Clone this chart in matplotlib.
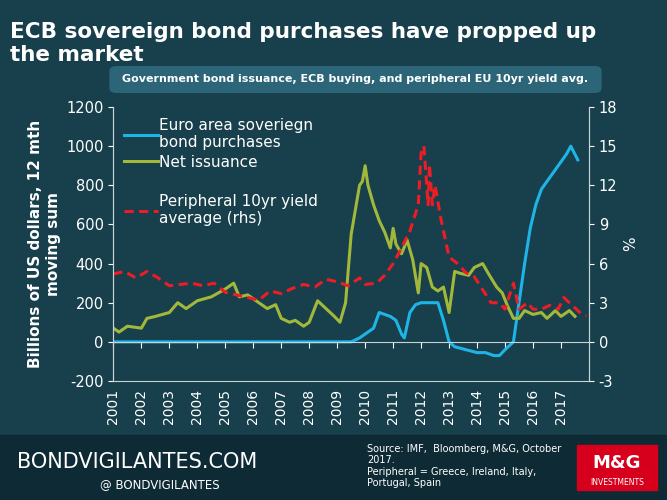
import matplotlib
matplotlib.use("Agg")
import matplotlib.pyplot as plt
from matplotlib.patches import FancyBboxPatch, Rectangle

plt.rcParams["axes.unicode_minus"] = False

blue_t = [2001.0, 2009.5, 2009.8, 2010.0, 2010.3, 2010.5, 2010.7, 2010.9, 2011.1, 2011.3, 2011.4, 2011.6, 2011.8, 2012.0, 2012.4, 2012.6, 2012.8, 2013.0, 2013.2, 2013.6, 2014.0, 2014.3, 2014.6, 2014.8, 2015.0, 2015.3, 2015.5, 2015.7, 2015.9, 2016.1, 2016.3, 2016.6, 2016.9, 2017.2, 2017.35, 2017.6]
blue_v = [0, 0, 20, 40, 70, 150, 140, 130, 110, 40, 20, 150, 190, 200, 200, 200, 110, 0, -25, -40, -55, -55, -70, -70, -40, 0, 200, 400, 580, 700, 780, 840, 900, 960, 1000, 930]

green_t = [2001.0, 2001.2, 2001.5, 2002.0, 2002.2, 2002.5, 2003.0, 2003.3, 2003.6, 2004.0, 2004.5, 2005.0, 2005.3, 2005.5, 2005.8, 2006.2, 2006.5, 2006.8, 2007.0, 2007.3, 2007.5, 2007.8, 2008.0, 2008.3, 2008.6, 2008.9, 2009.1, 2009.3, 2009.5, 2009.8, 2009.9, 2010.0, 2010.1, 2010.3, 2010.5, 2010.7, 2010.9, 2011.0, 2011.1, 2011.3, 2011.5, 2011.7, 2011.9, 2012.0, 2012.2, 2012.4, 2012.6, 2012.8, 2013.0, 2013.2, 2013.4, 2013.7, 2013.9, 2014.2, 2014.4, 2014.7, 2014.9, 2015.1, 2015.3, 2015.5, 2015.7, 2016.0, 2016.3, 2016.5, 2016.8, 2017.0, 2017.3, 2017.5]
green_v = [70, 50, 80, 70, 120, 130, 150, 200, 170, 210, 230, 270, 300, 230, 240, 200, 170, 190, 120, 100, 110, 80, 100, 210, 170, 130, 100, 200, 550, 800, 820, 900, 800, 700, 620, 560, 480, 580, 500, 450, 520, 420, 250, 400, 380, 280, 260, 280, 150, 360, 350, 340, 380, 400, 350, 280, 250, 180, 120, 120, 160, 140, 150, 120, 160, 130, 160, 130]

red_t = [2001.0, 2001.4, 2001.8, 2002.2, 2002.6, 2003.0, 2003.4, 2003.8, 2004.2, 2004.6, 2005.0, 2005.4, 2005.8, 2006.2, 2006.6, 2007.0, 2007.4, 2007.8, 2008.2, 2008.6, 2009.0, 2009.4, 2009.8, 2010.0, 2010.4, 2010.7, 2011.0, 2011.3, 2011.6, 2011.9, 2012.0, 2012.1, 2012.25, 2012.3, 2012.4, 2012.5, 2012.7, 2013.0, 2013.3, 2013.6, 2013.9, 2014.2, 2014.5, 2014.8, 2015.0, 2015.3, 2015.5, 2015.8, 2016.0, 2016.3, 2016.6, 2016.9, 2017.1, 2017.4, 2017.7, 2017.9]
red_v = [5.2, 5.4, 4.9, 5.4, 4.9, 4.3, 4.4, 4.5, 4.3, 4.5, 3.8, 3.6, 3.4, 3.2, 3.9, 3.7, 4.1, 4.4, 4.2, 4.8, 4.6, 4.3, 4.9, 4.4, 4.5, 5.1, 6.0, 7.2, 8.5, 10.5, 14.5, 15.0, 10.5, 13.6, 10.5, 12.0, 9.5, 6.5, 6.0, 5.3, 5.0, 4.0, 3.0, 3.0, 2.5, 4.5, 2.5, 3.0, 2.5, 2.5, 2.8, 2.5, 3.4, 2.8, 2.2, 2.0]

years = list(range(2001, 2018))

BG = "#173f4c"
fig = plt.figure(figsize=(6.67, 5.0), dpi=100, facecolor=BG)
fig.patches.append(Rectangle((0, 0), 1, 0.13, transform=fig.transFigure, color="#0e2b35", zorder=0))

fig.text(0.015, 0.955, "ECB sovereign bond purchases have propped up\nthe market", color="white",
         fontsize=15.5, fontweight="bold", va="top", ha="left", linespacing=1.15)
fig.patches.append(FancyBboxPatch((0.168, 0.818), 0.73, 0.046, boxstyle="round,pad=0.004,rounding_size=0.01",
                                  transform=fig.transFigure, fc="#2b6577", ec="none"))
fig.text(0.533, 0.841, "Government bond issuance, ECB buying, and peripheral EU 10yr yield avg.",
         color="white", fontsize=8, fontweight="bold", ha="center", va="center")

ax = fig.add_axes([0.17, 0.238, 0.713, 0.548])
ax.set_facecolor("none")
ax.plot(blue_t, blue_v, color="#1fb4e6", lw=2.2, label="Euro area soveriegn\nbond purchases")
ax.plot(green_t, green_v, color="#a2b83a", lw=2.2, label="Net issuance")
ax.plot([], [], color="none", label=" ")
ax2 = ax.twinx()
ax2.plot(red_t, red_v, color="#ee1c25", lw=2.2, ls=(0, (3, 1.8)))
ax.plot([], [], color="#ee1c25", lw=2.2, ls=(0, (3, 1.8)), label="Peripheral 10yr yield\naverage (rhs)")

ax.set_xlim(2001, 2018)
ax.set_ylim(-200, 1200)
ax2.set_ylim(-3, 18)
ax.set_yticks(range(-200, 1201, 200))
ax2.set_yticks(range(-3, 19, 3))
ax.set_xticks(years)
ax.set_xticklabels([])
for y in years:
    ax.text(y, -0.03, str(y), transform=ax.get_xaxis_transform(), rotation=90,
            color="white", fontsize=10, ha="center", va="top")
ax.spines["bottom"].set_position(("data", 0))
for a in (ax, ax2):
    for s in a.spines.values():
        s.set_color("#c8d4d8")
    a.spines["top"].set_visible(False)
    a.tick_params(colors="white", labelsize=10.5)
ax.tick_params(axis="x", direction="out", length=4)
ax.set_ylabel("Billions of US dollars, 12 mth\nmoving sum", color="white", fontsize=11, fontweight="bold")
ax2.set_ylabel("%", color="white", fontsize=11)
ax.legend(loc="upper left", frameon=False, fontsize=11, labelcolor="white", handlelength=2.2,
          handletextpad=0.1, borderaxespad=0.3, labelspacing=0.3)

fig.text(0.025, 0.075, "BONDVIGILANTES.COM", color="white", fontsize=15, va="center")
fig.text(0.15, 0.03, "@ BONDVIGILANTES", color="white", fontsize=8.5, va="center")
fig.text(0.55, 0.068, "Source: IMF,  Bloomberg, M&G, October\n2017.\nPeripheral = Greece, Ireland, Italy,\nPortugal, Spain",
         color="white", fontsize=7, va="center", linespacing=1.2)
fig.patches.append(Rectangle((0.865, 0.02), 0.12, 0.09, transform=fig.transFigure, color="#d6001c"))
fig.text(0.925, 0.075, "M&G", color="white", fontsize=13, fontweight="bold", ha="center", va="center")
fig.text(0.925, 0.035, "INVESTMENTS", color="white", fontsize=5.5, ha="center", va="center")

fig.savefig("out.png", dpi=100, facecolor=BG)
